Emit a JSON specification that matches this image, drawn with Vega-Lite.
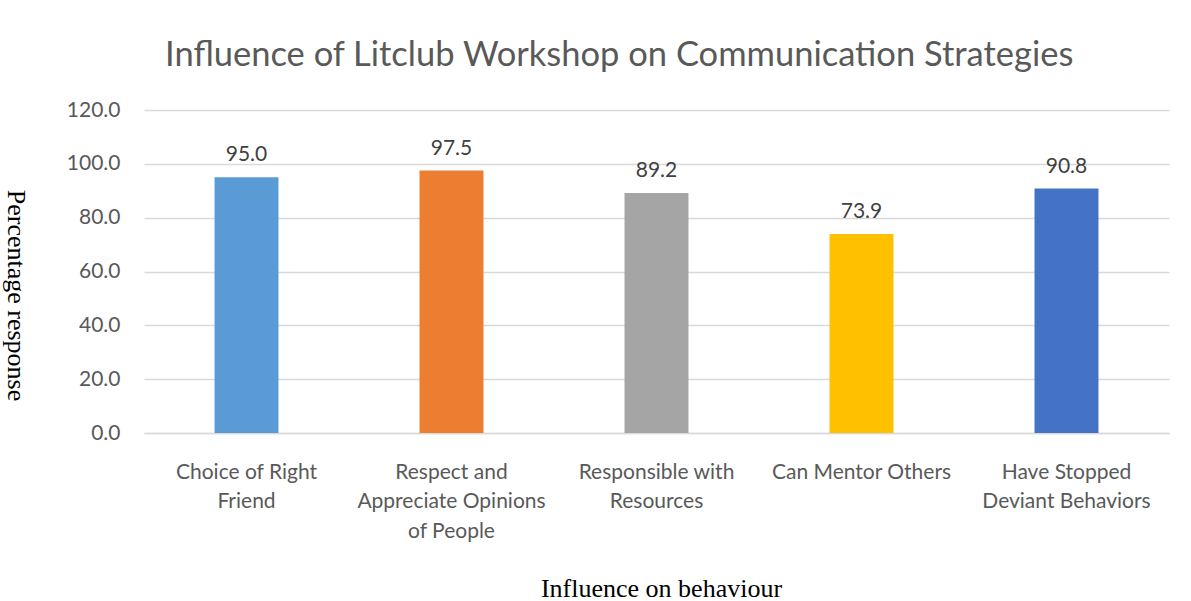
{
  "$schema": "https://vega.github.io/schema/vega-lite/v6.json",
  "width": 1025,
  "height": 323,
  "autosize": {"type": "none"},
  "padding": {"left": 144, "top": 110, "right": 22, "bottom": 168},
  "background": "white",
  "title": {
    "text": "Influence of Litclub Workshop on Communication Strategies",
    "anchor": "start",
    "frame": "group",
    "dx": 21,
    "offset": 26,
    "font": "Lato",
    "fontSize": 34.5,
    "fontWeight": "normal",
    "color": "#595959"
  },
  "data": {
    "values": [
      {"behaviour": "Choice of Right\nFriend", "pct": 95.0},
      {"behaviour": "Respect and\nAppreciate Opinions\nof People", "pct": 97.5},
      {"behaviour": "Responsible with\nResources", "pct": 89.2},
      {"behaviour": "Can Mentor Others", "pct": 73.9},
      {"behaviour": "Have Stopped\nDeviant Behaviors", "pct": 90.8}
    ]
  },
  "config": {
    "view": {"stroke": null},
    "axis": {"labelFont": "Lato", "labelColor": "#595959", "titleFont": "Liberation Serif", "titleColor": "#000000", "titleFontWeight": "normal"}
  },
  "encoding": {
    "x": {
      "field": "behaviour",
      "type": "nominal",
      "sort": null,
      "scale": {"paddingInner": 0.688, "paddingOuter": 0.344},
      "axis": {
        "title": "Influence on behaviour",
        "titleFontSize": 26,
        "titleX": 517,
        "titleY": 163,
        "titleBaseline": "alphabetic",
        "titleAnchor": "middle",
        "labelExpr": "split(datum.label, '\\n')",
        "labelAngle": 0,
        "labelFontSize": 21,
        "labelLineHeight": 29.5,
        "labelBaseline": "top",
        "labelPadding": 28,
        "labelLimit": 0,
        "ticks": false,
        "domainColor": "#D9D9D9",
        "domainWidth": 1.5
      }
    },
    "y": {
      "field": "pct",
      "type": "quantitative",
      "scale": {"domain": [0, 120]},
      "axis": {
        "title": "Percentage response",
        "titleFontSize": 26,
        "titleAngle": 90,
        "titleX": -129,
        "titleY": 185,
        "titleAlign": "center",
        "titleBaseline": "middle",
        "values": [0, 20, 40, 60, 80, 100, 120],
        "format": ".1f",
        "labelFontSize": 21,
        "labelPadding": 24,
        "ticks": false,
        "domain": false,
        "grid": true,
        "gridColor": "#D9D9D9",
        "gridWidth": 1.3
      }
    }
  },
  "layer": [
    {
      "mark": {"type": "bar"},
      "encoding": {
        "color": {
          "field": "behaviour",
          "type": "nominal",
          "sort": null,
          "scale": {"range": ["#5B9BD5", "#ED7D31", "#A5A5A5", "#FFC000", "#4472C4"]},
          "legend": null
        }
      }
    },
    {
      "mark": {"type": "text", "baseline": "alphabetic", "dy": -16, "font": "Lato", "fontSize": 21, "color": "#404040"},
      "encoding": {"text": {"field": "pct", "type": "quantitative", "format": ".1f"}}
    }
  ]
}
